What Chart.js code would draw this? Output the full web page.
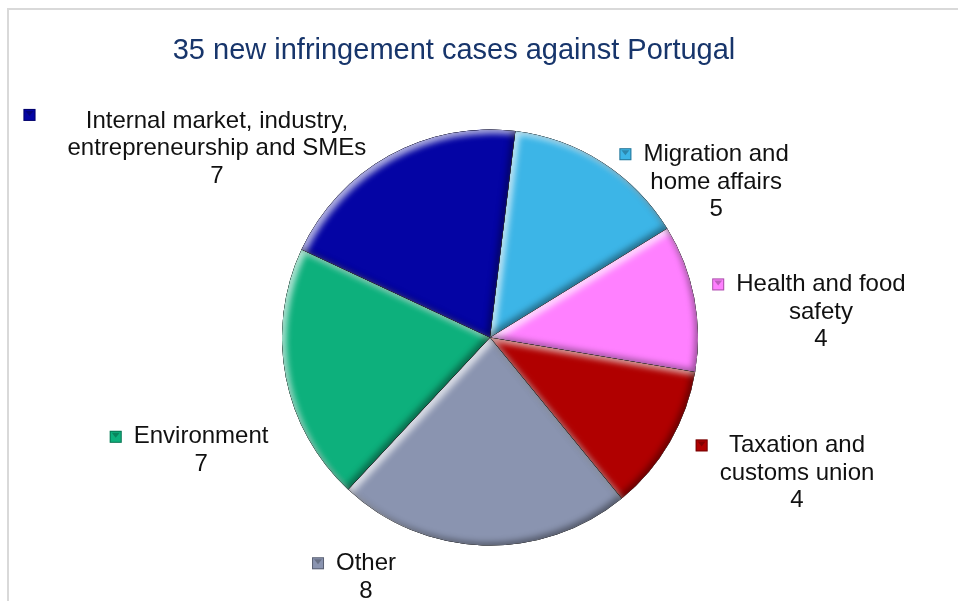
<!DOCTYPE html>
<html>
<head>
<meta charset="utf-8">
<script src="https://cdn.jsdelivr.net/npm/chart.js@4.4.1/dist/chart.umd.min.js"></script>
<style>
  html, body { margin: 0; padding: 0; background: #fff; }
  #wrap { position: relative; width: 958px; height: 601px; }
</style>
</head>
<body>
<div id="wrap"><canvas id="casosChart" width="958" height="601"></canvas></div>
<script>
// Dados
const titulo = '35 new infringement cases against Portugal';
const categorias = [
    'Migration and home affairs',
    'Health and food safety',
    'Taxation and customs union',
    'Other',
    'Environment',
    'Internal market, industry, entrepreneurship and SMEs'
];
const valores = [5, 4, 4, 8, 7, 7];
const cores = ['#3cb5e7', '#ff80ff', '#b00000', '#8a94b0', '#0db07c', '#0404a4'];

// Layout dos rótulos (em unidades do raio, a partir do centro da pizza)
const rotuloX = [1.087, 1.591, 1.476, -0.596, -1.389, -1.313];
const rotuloY = [-0.748, -0.122, 0.652, 1.152, 0.544, -0.908];
const larguraQuebra = [150, 175, 160, 120, 170, 310];
const chaveDx = [0, 0, 0, 0, 0, -20];
const chaveDy = [0, 0, 0, 0, 0, -6];

const FONTE = '"Liberation Sans", Arial, sans-serif';

function quebrarTexto(ctx, texto, max) {
    const palavras = texto.split(' ');
    const linhas = [];
    let atual = '';
    palavras.forEach(p => {
        const teste = atual ? atual + ' ' + p : p;
        if (atual && ctx.measureText(teste).width > max) {
            linhas.push(atual);
            atual = p;
        } else {
            atual = teste;
        }
    });
    if (atual) linhas.push(atual);
    return linhas;
}

function sombraInterna(ctx, path, cor, dx, dy, blur) {
    ctx.save();
    const p = new Path2D();
    p.rect(-3000, -3000, 7000, 7000);
    p.addPath(path);
    ctx.shadowColor = cor;
    ctx.shadowBlur = blur;
    ctx.shadowOffsetX = dx;
    ctx.shadowOffsetY = dy;
    ctx.fillStyle = 'rgba(0,0,0,1)';
    ctx.fill(p, 'evenodd');
    ctx.restore();
}

// Moldura + título
const moldura = {
    id: 'moldura',
    beforeDraw(chart) {
        const ctx = chart.ctx;
        ctx.save();
        ctx.fillStyle = '#fff';
        ctx.fillRect(0, 0, chart.width, chart.height);
        ctx.strokeStyle = '#d9d9d9';
        ctx.lineWidth = 2;
        ctx.strokeRect(8, 9, 1200, 800);
        ctx.font = '29px ' + FONTE;
        ctx.fillStyle = '#17356b';
        ctx.textAlign = 'center';
        ctx.textBaseline = 'middle';
        ctx.fillText(titulo, 454, 51);
        ctx.restore();
    }
};

// Efeito de chanfro nas fatias
const chanfro = {
    id: 'chanfro',
    afterDatasetsDraw(chart) {
        const ctx = chart.ctx;
        chart.getDatasetMeta(0).data.forEach(arc => {
            const a = arc.getProps(['x', 'y', 'startAngle', 'endAngle', 'outerRadius'], true);
            const path = new Path2D();
            path.moveTo(a.x, a.y);
            path.arc(a.x, a.y, a.outerRadius, a.startAngle, a.endAngle);
            path.closePath();
            ctx.save();
            ctx.clip(path);
            sombraInterna(ctx, path, 'rgba(255,255,255,0.7)', 4, 4, 6);
            sombraInterna(ctx, path, 'rgba(0,0,0,0.4)', -3, -3, 6);
            ctx.restore();
        });
    }
};

// Rótulos com chave de legenda
const rotulos = {
    id: 'rotulos',
    afterDraw(chart) {
        const ctx = chart.ctx;
        ctx.save();
        ctx.font = '24px ' + FONTE;
        ctx.textAlign = 'center';
        ctx.textBaseline = 'middle';
        const lh = 27.7;
        chart.getDatasetMeta(0).data.forEach((arc, i) => {
            const r = arc.outerRadius;
            const cx = arc.x + rotuloX[i] * r;
            const cy = arc.y + rotuloY[i] * r;
            const linhas = quebrarTexto(ctx, categorias[i], larguraQuebra[i]);
            linhas.push(String(valores[i]));
            const y0 = cy - (linhas.length - 1) * lh / 2;
            let maxW = 0;
            linhas.forEach((l, k) => {
                ctx.fillStyle = '#111';
                ctx.fillText(l, cx, y0 + k * lh);
                maxW = Math.max(maxW, ctx.measureText(l).width);
            });
            // chave
            const s = 12;
            const kx = cx - maxW / 2 - 12 - s + chaveDx[i];
            const ky = y0 - s / 2 + chaveDy[i];
            ctx.fillStyle = cores[i];
            ctx.fillRect(kx, ky, s, s);
            ctx.strokeStyle = 'rgba(0,0,0,0.35)';
            ctx.lineWidth = 1;
            ctx.strokeRect(kx + 0.5, ky + 0.5, s - 1, s - 1);
            ctx.fillStyle = 'rgba(0,0,0,0.25)';
            ctx.beginPath();
            ctx.moveTo(kx + 2, ky + 2);
            ctx.lineTo(kx + s - 2, ky + 2);
            ctx.lineTo(kx + s / 2, ky + s / 2 + 1);
            ctx.closePath();
            ctx.fill();
        });
        ctx.restore();
    }
};

new Chart(document.getElementById('casosChart').getContext('2d'), {
    type: 'pie',
    data: {
        labels: categorias,
        datasets: [{
            data: valores,
            backgroundColor: cores,
            borderWidth: 0,
            hoverOffset: 0
        }]
    },
    options: {
        responsive: false,
        animation: false,
        rotation: 7,
        layout: { padding: { left: 282, right: 260, top: 129.5, bottom: 55.5 } },
        plugins: {
            legend: { display: false },
            tooltip: { enabled: false },
            title: { display: false }
        }
    },
    plugins: [moldura, chanfro, rotulos]
});
</script>
</body>
</html>
